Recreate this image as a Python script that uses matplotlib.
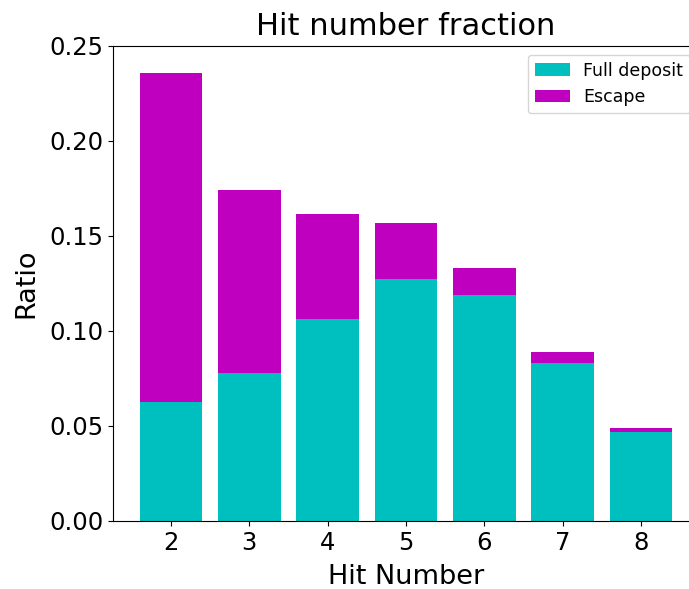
import matplotlib
matplotlib.use('Agg')
import matplotlib.pyplot as plt

hit_number = [2, 3, 4, 5, 6, 7, 8]
full_deposit = [0.0628, 0.0779, 0.1063, 0.1274, 0.1189, 0.0832, 0.0468]
escape = [0.1730, 0.0963, 0.0553, 0.0294, 0.0143, 0.0057, 0.0021]

fig = plt.figure(figsize=(6.89, 5.89), dpi=100)
ax = fig.add_axes([0.164, 0.1155, 0.8505, 0.8065])
ax.bar(hit_number, full_deposit, width=0.8, color='c', label='Full deposit')
ax.bar(hit_number, escape, width=0.8, bottom=full_deposit, color='m', label='Escape')
ax.set_ylim(0, 0.25)
ax.set_xticks(hit_number)
ax.tick_params(labelsize=17.5)
ax.set_xlabel('Hit Number', fontsize=19.5, labelpad=7)
ax.set_ylabel('Ratio', fontsize=19.5, labelpad=7)
ax.set_title('Hit number fraction', fontsize=22, pad=8)
ax.legend(loc='upper right', fontsize=12.5)
fig.savefig('out.png', dpi=100)
